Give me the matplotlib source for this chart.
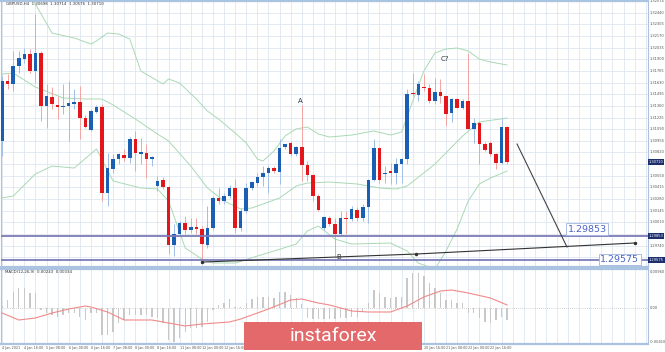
import numpy as np
import matplotlib.pyplot as plt
from matplotlib.patches import Rectangle

# H4 candles (open, high, low, close)
opens = [1.30953, 1.31648, 1.31613, 1.31821, 1.31902, 1.31960, 1.31763, 1.31972, 1.31358, 1.31462,
         1.31370, 1.31347, 1.31358, 1.31381, 1.31404, 1.31219, 1.31080, 1.31289, 1.31347, 1.30351,
         1.30629, 1.30744, 1.30791, 1.30756, 1.30976, 1.30802, 1.30814, 1.30744, 1.30432, 1.30501,
         1.30420, 1.29748, 1.29876, 1.30003, 1.29922, 1.29957, 1.29934, 1.29748, 1.29945, 1.30293,
         1.30258, 1.30316, 1.30409, 1.29945, 1.30142, 1.30409, 1.30466, 1.30536, 1.30582, 1.30640,
         1.30594, 1.30883, 1.30930, 1.30802, 1.30883, 1.30675, 1.30559, 1.30316, 1.29945, 1.30061,
         1.29992, 1.29876, 1.30061, 1.30050, 1.30154, 1.30061, 1.30189, 1.30501, 1.30872, 1.30571,
         1.30605, 1.30582, 1.30686, 1.30744, 1.31509, 1.31485, 1.31578, 1.31567, 1.31416, 1.31520,
         1.31474, 1.31277, 1.31439, 1.31335, 1.31416, 1.31092, 1.31161, 1.30918, 1.30930, 1.30802,
         1.30698, 1.31115]
highs = [1.31705, 1.31729, 1.31995, 1.31995, 1.32030, 1.32018, 1.32423, 1.31995, 1.31613, 1.31578,
         1.31474, 1.31613, 1.31648, 1.31555, 1.31590, 1.31254, 1.31323, 1.31370, 1.31381, 1.30814,
         1.30802, 1.30814, 1.30860, 1.30999, 1.31069, 1.30988, 1.30918, 1.30779, 1.30547, 1.30536,
         1.30432, 1.29992, 1.30026, 1.30084, 1.30061, 1.30061, 1.29968, 1.30200, 1.30316, 1.30409,
         1.30351, 1.30443, 1.30513, 1.30177, 1.30466, 1.30490, 1.30582, 1.30663, 1.30663, 1.30663,
         1.30976, 1.30918, 1.30953, 1.30895, 1.31370, 1.30721, 1.30571, 1.30339, 1.30084, 1.30084,
         1.30061, 1.30142, 1.30142, 1.30200, 1.30189, 1.30223, 1.30513, 1.30976, 1.30883, 1.30663,
         1.30698, 1.30756, 1.30756, 1.31555, 1.31740, 1.31648, 1.31729, 1.31613, 1.31682, 1.31671,
         1.31474, 1.31451, 1.31451, 1.31439, 1.31972, 1.31219, 1.31184, 1.30941, 1.30953, 1.30814,
         1.31219, 1.31126]
lows = [1.30779, 1.31555, 1.31532, 1.31740, 1.31856, 1.31740, 1.31624, 1.31184, 1.31103, 1.31323,
        1.31208, 1.31265, 1.30953, 1.31323, 1.30976, 1.31103, 1.31069, 1.31277, 1.30258, 1.30200,
        1.30582, 1.30686, 1.30721, 1.30698, 1.30605, 1.30686, 1.30524, 1.30663, 1.30374, 1.30397,
        1.29644, 1.29621, 1.29853, 1.29876, 1.29887, 1.29876, 1.29574, 1.29714, 1.29922, 1.30223,
        1.30223, 1.30293, 1.29887, 1.29911, 1.30119, 1.30385, 1.30432, 1.30432, 1.30351, 1.30582,
        1.30455, 1.30860, 1.30779, 1.30779, 1.30490, 1.30490, 1.30258, 1.30142, 1.29922, 1.29968,
        1.29621, 1.29853, 1.29876, 1.30026, 1.30026, 1.30026, 1.30003, 1.30490, 1.30466, 1.30466,
        1.30455, 1.30455, 1.30466, 1.30686, 1.31474, 1.31416, 1.31532, 1.31393, 1.31381, 1.31393,
        1.31126, 1.31173, 1.31335, 1.31323, 1.31092, 1.30930, 1.30686, 1.30837, 1.30779, 1.30629,
        1.30686, 1.30686]
closes = [1.31648, 1.31613, 1.31821, 1.31914, 1.31960, 1.31763, 1.31972, 1.31358, 1.31474, 1.31381,
          1.31347, 1.31358, 1.31393, 1.31404, 1.31219, 1.31115, 1.31300, 1.31347, 1.30351, 1.30640,
          1.30744, 1.30802, 1.30756, 1.30976, 1.30814, 1.30825, 1.30744, 1.30768, 1.30490, 1.30420,
          1.29748, 1.29876, 1.30003, 1.29922, 1.29957, 1.29934, 1.29760, 1.29945, 1.30293, 1.30258,
          1.30316, 1.30409, 1.29945, 1.30142, 1.30409, 1.30478, 1.30536, 1.30582, 1.30640, 1.30605,
          1.30872, 1.30918, 1.30802, 1.30883, 1.30675, 1.30559, 1.30316, 1.30154, 1.30073, 1.29992,
          1.29876, 1.30061, 1.30050, 1.30165, 1.30061, 1.30189, 1.30501, 1.30872, 1.30501, 1.30582,
          1.30582, 1.30686, 1.30744, 1.31497, 1.31497, 1.31613, 1.31567, 1.31416, 1.31520, 1.31474,
          1.31265, 1.31439, 1.31335, 1.31416, 1.31092, 1.31161, 1.30918, 1.30849, 1.30802, 1.30698,
          1.31115, 1.30710]

# Bollinger bands (bar index, price)
upper_idx = [0, 6, 9, 13, 16, 17, 19, 21, 23, 25, 29, 30, 32, 35, 37, 39, 42, 44, 46, 47, 49, 51,
             53, 55, 57, 59, 63, 67, 70, 72, 74, 76, 78, 80, 82, 84, 86, 88, 91]
upper_val = [1.33037, 1.32539, 1.32203, 1.32146, 1.32076, 1.32111, 1.32203, 1.32192, 1.32134, 1.31763,
             1.31613, 1.31671, 1.31624, 1.31439, 1.31300, 1.31208, 1.31045, 1.30930, 1.30744, 1.30721,
             1.30837, 1.31011, 1.31092, 1.31115, 1.31034, 1.30999, 1.31022, 1.31069, 1.31022, 1.31057,
             1.31416, 1.31763, 1.31972, 1.32018, 1.32030, 1.31995, 1.31902, 1.31868, 1.31833]
mid_idx = [0, 2, 6, 11, 15, 18, 20, 24, 28, 30, 34, 37, 40, 43, 45, 47, 50, 53, 55, 59, 64, 68,
           71, 73, 78, 83, 86, 91]
mid_val = [1.31729, 1.31740, 1.31578, 1.31451, 1.31439, 1.31439, 1.31370, 1.31208, 1.31034, 1.30953,
           1.30663, 1.30409, 1.30258, 1.30165, 1.30177, 1.30223, 1.30293, 1.30432, 1.30466, 1.30478,
           1.30455, 1.30409, 1.30397, 1.30432, 1.30686, 1.31011, 1.31173, 1.31219]
lower_idx = [0, 2, 6, 9, 13, 17, 20, 25, 28, 30, 33, 36, 38, 42, 46, 49, 53, 55, 57, 60, 63, 70,
             73, 75, 78, 80, 82, 84, 86, 88, 91]
lower_val = [1.30293, 1.30316, 1.30571, 1.30663, 1.30640, 1.30860, 1.30490, 1.30409, 1.30397, 1.30258,
             1.29714, 1.29586, 1.29540, 1.29540, 1.29621, 1.29679, 1.29760, 1.29911, 1.29968, 1.29817,
             1.29760, 1.29771, 1.29679, 1.29540, 1.29470, 1.29679, 1.29934, 1.30258, 1.30455, 1.30524,
             1.30605]

# MACD histogram and signal
macd_hist = [0.0002, 0.0008, 0.0016, 0.0020, 0.0020, 0.0015, 0.0015, -0.0002, -0.0005, -0.0007,
             -0.0009, -0.0007, -0.0005, -0.0005, -0.0009, -0.0012, -0.0005, -0.0005, -0.0027, -0.0027,
             -0.0024, -0.0015, -0.0012, -0.0007, -0.0007, -0.0007, -0.0007, -0.0009, -0.0010, -0.0015,
             -0.0032, -0.0034, -0.0030, -0.0024, -0.0020, -0.0020, -0.0019, -0.0014, -0.0002, 0.0003,
             0.0005, 0.0009, 0.0001, 0.0001, 0.0005, 0.0009, 0.0011, 0.0011, 0.0011, 0.0010,
             0.0016, 0.0016, 0.0013, 0.0010, 0.0004, -0.0010, -0.0011, -0.0011, -0.0011, -0.0011,
             -0.0011, -0.0010, -0.0010, -0.0009, -0.0009, -0.0004, 0.0005, 0.0018, 0.0015, 0.0011,
             0.0010, 0.0011, 0.0011, 0.0030, 0.0035, 0.0035, 0.0032, 0.0025, 0.0020, 0.0015,
             0.0008, 0.0008, 0.0005, 0.0005, -0.0005, -0.0005, -0.0010, -0.0014, -0.0015, -0.0012,
             -0.0009, -0.0012]
signal_idx = [0, 3, 6, 9, 12, 15, 16, 19, 22, 27, 29, 33, 36, 41, 43, 48, 52, 54, 57, 59, 63, 66,
              70, 73, 76, 79, 81, 84, 88, 91]
signal_val = [-0.0005, -0.0012, -0.0010, -0.0005, -0.0001, 0.0002, 0.0001, -0.0004, -0.0012, -0.0012,
              -0.0014, -0.0018, -0.0016, -0.0014, -0.0011, -0.0001, 0.0008, 0.0009, 0.0005, 0.0003,
              -0.0003, -0.0004, -0.0004, 0.0002, 0.0011, 0.0017, 0.0018, 0.0015, 0.0010, 0.0003]

support_levels = [1.29853, 1.29575]
trend_idx = [36, 74.5, 114]
trend_val = [1.29551, 1.29644, 1.29772]
proj_idx = [92.8, 101.8]
proj_val = [1.30918, 1.29725]
wave_labels = ['A', 'B', 'C?']
wave_idx = [53.7, 60.7, 79.8]
wave_val = [1.31416, 1.29610, 1.31902]

price_ticks = [1.32574, 1.32440, 1.32305, 1.32170, 1.32035, 1.31900, 1.31765, 1.31630, 1.31495,
               1.31360, 1.31225, 1.31090, 1.30955, 1.30820, 1.30685, 1.30550, 1.30415, 1.30280,
               1.30145, 1.30010, 1.29875, 1.29740, 1.29605]
time_labels = ['4 Jan 2021', '4 Jan 16:00', '5 Jan 08:00', '6 Jan 00:00', '6 Jan 16:00',
               '7 Jan 08:00', '8 Jan 00:00', '8 Jan 16:00', '11 Jan 08:00', '12 Jan 00:00',
               '12 Jan 16:00', '13 Jan 08:00', '14 Jan 00:00', '14 Jan 16:00', '15 Jan 08:00',
               '18 Jan 00:00', '18 Jan 16:00', '19 Jan 08:00', '20 Jan 00:00', '20 Jan 16:00',
               '21 Jan 08:00', '22 Jan 00:00', '22 Jan 16:00']

BLUE = '#1a5fb4'
RED = '#e3161b'
GRID = '#dfe6f0'
FRAME = '#a9c3e0'

fig = plt.figure(figsize=(6.65, 3.52), dpi=100)
ax = fig.add_axes([1 / 665, 1 - 267 / 352, 647 / 665, 266 / 352])
ax2 = fig.add_axes([1 / 665, 1 - 344 / 352, 647 / 665, 75 / 352])

n = len(opens)
x = np.arange(n)
o = np.array(opens)
c = np.array(closes)
up = c >= o

# grid
for a in (ax, ax2):
    a.set_xlim(-0.2, 116.4)
    a.set_xticks(np.arange(0, 117, 2), minor=True)
    a.grid(True, which='minor', axis='x', color=GRID, lw=0.6)
    a.tick_params(which='both', length=0, labelbottom=False, labelleft=False)
    a.set_xticks([])
    for s in a.spines.values():
        s.set_color(FRAME)
        s.set_linewidth(0.8)
    a.spines['bottom'].set_linewidth(1.6)
    a.spines['top'].set_linewidth(1.6)
    a.set_axisbelow(True)

ax.set_ylim(1.29494, 1.32562)
ax.set_yticks(price_ticks)
ax.grid(True, axis='y', color=GRID, lw=0.6)
ax.grid(True, which='minor', axis='x', color=GRID, lw=0.6)

# bollinger bands
for bi, bv in ((upper_idx, upper_val), (mid_idx, mid_val), (lower_idx, lower_val)):
    ax.plot(bi, bv, color='#a9d9b4', lw=0.7, zorder=2)

# candles
wick_col = np.where(up, '#9fbfe8', '#f2a3a3')
ax.vlines(x, lows, highs, colors=wick_col, lw=0.7, zorder=3)
ax.bar(x, np.abs(c - o) + 0.00003, bottom=np.minimum(o, c), width=0.64,
       color=np.where(up, BLUE, RED), zorder=4)

# levels and lines
for lvl in support_levels:
    ax.axhline(lvl, color='#7b7cb8', lw=1.3, zorder=5)
ax.plot(trend_idx, trend_val, color='#333333', lw=0.8, marker='o', ms=1.5, zorder=6)
ax.plot(proj_idx, proj_val, color='#444444', lw=0.8, zorder=6)
for t, xi, yv in zip(wave_labels, wave_idx, wave_val):
    ax.text(xi, yv, t, fontsize=5, color='#333333', ha='center', va='center', zorder=7)

ax.text(101.9, support_levels[0] + 0.00025, '1.29853', fontsize=6.8, color='#4a63c8', va='bottom',
        ha='left', bbox=dict(boxstyle='square,pad=0.15', fc='white', ec='#9fb3e0', lw=0.6), zorder=8)
ax.text(107.8, support_levels[1] + 0.00005, '1.29575', fontsize=6.8, color='#4a63c8', va='center',
        ha='left', bbox=dict(boxstyle='square,pad=0.15', fc='white', ec='#9fb3e0', lw=0.6), zorder=8)

# right price labels (the highlighted ones cover the grid labels next to them)
marked = [closes[-1], support_levels[0], support_levels[1]]
for p in price_ticks:
    if min(abs(p - m) for m in marked) < 0.0006:
        continue
    fig.text(650 / 665, ax.transData.transform((0, p))[1] / 352, f'{p:.5f}', fontsize=2.6,
             color='#555555', va='center', ha='left')
for p in marked:
    fig.text(649 / 665, ax.transData.transform((0, p))[1] / 352, f'{p:.5f}', fontsize=2.6,
             color='white', va='center', ha='left',
             bbox=dict(boxstyle='square,pad=0.15', fc='#1c2e6e', ec='none'))

fig.text(6 / 665, 1 - 4 / 352, 'GBPUSD,H4  1.30698  1.30714  1.30576  1.30710', fontsize=2.8,
         color='#333333', va='center')

# MACD panel
ax2.set_ylim(-0.0036, 0.0039)
ax2.bar(x, macd_hist, width=0.25, color='#c8c8c8', zorder=3)
ax2.plot(signal_idx, signal_val, color='#f08a8a', lw=0.8, zorder=4)
ax2.axhline(0, color='#aaaaaa', lw=0.5, ls=(0, (1, 2)))
ax2.text(0.5, 0.0036, 'MACD(12,26,9)  0.00243  0.00034', fontsize=2.8, color='#333333', va='center')
fig.text(650 / 665, 1 - 272 / 352, '0.00960', fontsize=2.6, color='#555555', va='center')
fig.text(650 / 665, 1 - 308 / 352, '0.00', fontsize=2.6, color='#555555', va='center')
fig.text(650 / 665, 1 - 342 / 352, '-0.00410', fontsize=2.6, color='#555555', va='center')

# time axis (labels under the logo are hidden in the original)
for k, lab in enumerate(time_labels):
    xp = 2 + 5.55 * 4 * k
    if 225 < xp < 422:
        continue
    fig.text(xp / 665, 1 - 348 / 352, lab, fontsize=2.4, color='#555555', va='center', ha='left')

# logo
fig.patches.append(Rectangle((244 / 665, 1 - 350 / 352), 178 / 665, 28 / 352,
                             transform=fig.transFigure, fc='#e3696b', ec='none', zorder=10))
fig.text(333 / 665, 1 - 336 / 352, 'instaforex', fontsize=14, family='Roboto',
         color='white', ha='center', va='center', zorder=11)

fig.savefig('out.png', dpi=100)
